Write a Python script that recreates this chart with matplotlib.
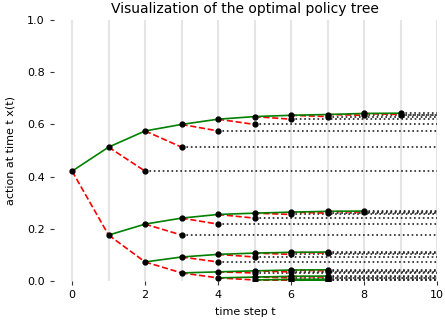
import numpy as np
from matplotlib import pyplot as plt
from matplotlib.ticker import MultipleLocator

# each chain starts at time t_start[i]; green = repeated "up" moves
t_start = [0, 1, 2, 3, 4, 5, 6]
green = [
    [0.421, 0.513, 0.575, 0.600, 0.620, 0.630, 0.635, 0.638, 0.642, 0.643],
    [0.176, 0.218, 0.241, 0.255, 0.260, 0.264, 0.267, 0.268],
    [0.073, 0.092, 0.102, 0.107, 0.110, 0.111],
    [0.031, 0.035, 0.039, 0.042, 0.043],
    [0.012, 0.015, 0.018, 0.019],
    [0.004, 0.006, 0.007],
    [0.0015, 0.002],
]
# terminal values after a "down" move from chain nodes 1..n-2
drop = [
    [0.421, 0.513, 0.575, 0.600, 0.620, 0.630, 0.635, 0.638],
    [0.176, 0.218, 0.241, 0.255, 0.260, 0.264],
    [0.073, 0.092, 0.102, 0.107],
    [0.031, 0.035, 0.039],
    [0.012, 0.015],
    [0.004],
    [],
]
t_end = 10

fig = plt.figure(figsize=(4.45, 3.23), dpi=100)
ax = fig.add_axes([0.121, 0.130, 0.861, 0.808])

lw = 1.2
ms = 3.5
for i in range(len(green)):
    t0 = t_start[i]
    vals = green[i]
    ts = np.arange(t0, t0 + len(vals))
    # drops that end the path, then hold the value to the horizon
    for j, v in enumerate(drop[i]):
        tn = ts[j + 1]
        ax.plot([tn, tn + 1], [vals[j + 1], v], 'r--', lw=lw, zorder=2)
        ax.plot([tn + 1, t_end], [v, v], ':', color='#222222', lw=lw, zorder=1)
        ax.plot(tn + 1, v, 'o', color='black', markersize=ms, zorder=4)
    # first node branches into the next chain
    if i + 1 < len(green):
        ax.plot([t0, t0 + 1], [vals[0], green[i + 1][0]], 'r--', lw=lw, zorder=2)
    ax.plot(ts, vals, 'g-', lw=lw, zorder=3)
    ax.plot(ts, vals, 'o', color='black', markersize=ms, zorder=4)
    ax.plot([ts[-1], t_end], [vals[-1], vals[-1]], ':', color='#222222', lw=lw, zorder=1)

ax.set_xlim(-0.5, 10)
ax.set_ylim(0, 1)
ax.xaxis.set_major_locator(MultipleLocator(2))
ax.xaxis.set_minor_locator(MultipleLocator(1))
ax.set_yticks([0, 0.2, 0.4, 0.6, 0.8, 1.0])
ax.grid(True, axis='x', which='both', color='#e5e5e5', lw=1.5, zorder=0)
ax.set_axisbelow(True)
for s in ax.spines.values():
    s.set_visible(False)
ax.tick_params(axis='both', which='major', length=3, labelsize=8, color='#333333')
ax.tick_params(axis='x', which='minor', length=0)

ax.set_xlabel('time step t', fontsize=8, labelpad=5)
ax.set_ylabel('action at time t x(t)', fontsize=8, labelpad=8)
ax.set_title('Visualization of the optimal policy tree', fontsize=10, pad=5)

plt.savefig('out.png', dpi=100)
